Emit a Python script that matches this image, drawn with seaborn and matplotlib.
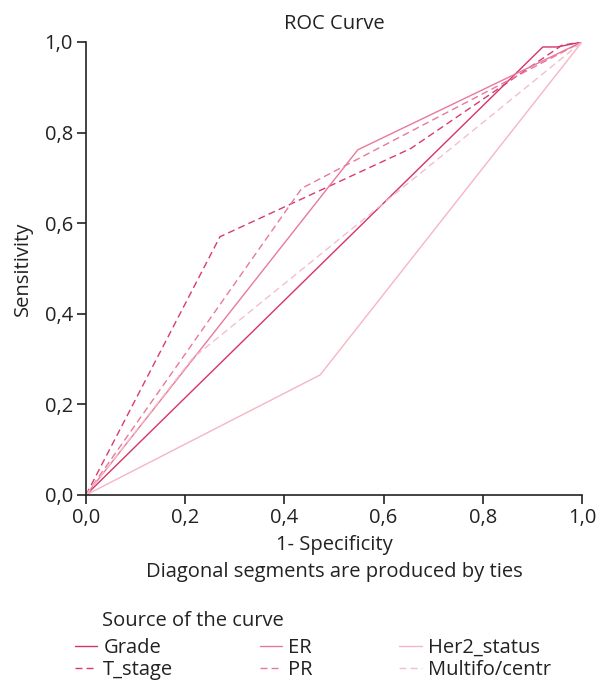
import matplotlib
matplotlib.use("Agg")
import matplotlib.pyplot as plt
import matplotlib.ticker as mticker
import pandas as pd
import seaborn as sns

# Curvas ROC (1 - especificidade, sensibilidade)
curvas = ["Grade", "T_stage", "ER", "PR", "Her2_status", "Multifo/centr"]

grade_x = [0.0, 0.921, 0.95, 1.0]
grade_y = [0.0, 0.989, 0.989, 1.0]

t_stage_x = [0.0, 0.27, 0.655, 0.96, 1.0]
t_stage_y = [0.0, 0.57, 0.765, 0.993, 1.0]

er_x = [0.0, 0.548, 1.0]
er_y = [0.0, 0.762, 1.0]

pr_x = [0.0, 0.435, 1.0]
pr_y = [0.0, 0.677, 1.0]

her2_x = [0.0, 0.472, 1.0]
her2_y = [0.0, 0.265, 1.0]

multifo_x = [0.0, 0.215, 1.0]
multifo_y = [0.0, 0.302, 1.0]

cores = {
    "Grade": "#d6336c",
    "T_stage": "#d93a71",
    "ER": "#e9799a",
    "PR": "#e9799a",
    "Her2_status": "#f4b6c4",
    "Multifo/centr": "#f4bfcb",
}
tracos = {
    "Grade": "",
    "T_stage": (5, 3),
    "ER": "",
    "PR": (5, 3),
    "Her2_status": "",
    "Multifo/centr": (5, 3),
}

linhas = []
for nome, xs, ys in zip(
    curvas,
    [grade_x, t_stage_x, er_x, pr_x, her2_x, multifo_x],
    [grade_y, t_stage_y, er_y, pr_y, her2_y, multifo_y],
):
    for x, y in zip(xs, ys):
        linhas.append({"curva": nome, "fpr": x, "tpr": y})
df = pd.DataFrame(linhas)

sns.set_theme(style="ticks")
plt.rcParams["font.family"] = ["Open Sans", "DejaVu Sans"]
FS = 14.5
COR_TEXTO = "#222222"

fig = plt.figure(figsize=(5.99, 6.85), dpi=100)
ax = fig.add_axes([0.1436, 0.2774, 0.828, 0.6613])

sns.lineplot(
    data=df, x="fpr", y="tpr", hue="curva", style="curva",
    hue_order=curvas, style_order=curvas,
    palette=cores, dashes=tracos,
    sort=False, estimator=None, linewidth=1.0, ax=ax,
)

ax.set_xlim(0, 1)
ax.set_ylim(0, 1)
ax.set_xticks([0, 0.2, 0.4, 0.6, 0.8, 1.0])
ax.set_yticks([0, 0.2, 0.4, 0.6, 0.8, 1.0])
virgula = mticker.FuncFormatter(lambda v, p: f"{v:.1f}".replace(".", ","))
ax.xaxis.set_major_formatter(virgula)
ax.yaxis.set_major_formatter(virgula)
ax.tick_params(labelsize=FS, length=6.5, width=1.2, colors=COR_TEXTO, pad=3)
for lado in ["left", "bottom"]:
    ax.spines[lado].set_linewidth(1.2)
    ax.spines[lado].set_color(COR_TEXTO)
sns.despine(ax=ax)

ax.set_title("ROC Curve", fontsize=FS, pad=9, color=COR_TEXTO)
ax.set_ylabel("Sensitivity", fontsize=FS, color=COR_TEXTO, labelpad=8)
ax.set_xlabel("1- Specificity\nDiagonal segments are produced by ties",
              fontsize=FS, color=COR_TEXTO, linespacing=1.45, labelpad=5)

# legenda em 3 colunas, título à parte alinhado com os textos
sns.move_legend(
    ax, "upper left", bbox_to_anchor=(0.112, 0.081), bbox_transform=fig.transFigure,
    ncol=3, title=None, frameon=False, fontsize=FS,
    handlelength=1.1, handletextpad=0.3, borderaxespad=0,
    columnspacing=4.3, labelspacing=0.1,
)
fig.text(0.170, 0.094, "Source of the curve", fontsize=FS, color=COR_TEXTO,
         ha="left", va="center")
for t in ax.get_legend().get_texts():
    t.set_color(COR_TEXTO)

fig.savefig("out.png", dpi=100)
